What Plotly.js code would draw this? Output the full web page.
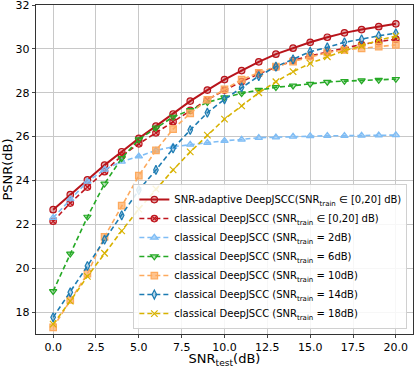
<!DOCTYPE html>
<html>
<head>
<meta charset="utf-8">
<script src="https://cdn.plot.ly/plotly-3.0.1.min.js"></script>
<style>
  body { margin: 0; background: #fff; }
  #chart { width: 416px; height: 368px; }
</style>
</head>
<body>
<div id="chart"></div>
<script>
// test SNR values (dB)
const snrTest = [0, 1, 2, 3, 4, 5, 6, 7, 8, 9, 10, 11, 12, 13, 14, 15, 16, 17, 18, 19, 20];

// PSNR
const psnrAdaptive = [22.67, 23.35, 24.03, 24.70, 25.31, 25.92, 26.48, 27.03, 27.62, 28.12, 28.60, 29.01, 29.41, 29.76, 30.03, 30.30, 30.53, 30.73, 30.88, 31.01, 31.14];
const psnrRange    = [22.14, 22.97, 23.70, 24.40, 25.12, 25.67, 26.17, 26.68, 27.20, 27.68, 28.12, 28.51, 28.86, 29.17, 29.47, 29.68, 29.85, 30.01, 30.20, 30.33, 30.44];
const psnr2dB      = [22.30, 23.15, 23.95, 24.50, 24.86, 25.10, 25.37, 25.54, 25.64, 25.72, 25.81, 25.87, 25.95, 25.97, 26.00, 26.03, 26.04, 26.04, 26.05, 26.06, 26.07];
const psnr6dB      = [18.95, 20.66, 22.34, 23.85, 25.01, 25.87, 26.40, 26.90, 27.20, 27.56, 27.78, 27.97, 28.12, 28.25, 28.32, 28.40, 28.49, 28.53, 28.56, 28.58, 28.62];
const psnr10dB     = [17.30, 18.55, 19.75, 21.43, 22.85, 24.22, 25.37, 26.34, 27.06, 27.68, 28.15, 28.60, 28.91, 29.19, 29.42, 29.64, 29.83, 29.95, 30.02, 30.10, 30.18];
const psnr14dB     = [17.76, 18.90, 20.10, 21.30, 22.41, 23.56, 24.48, 25.46, 26.30, 27.09, 27.70, 28.25, 28.76, 29.19, 29.52, 29.87, 30.07, 30.30, 30.44, 30.60, 30.71];
const psnr18dB     = [17.45, 18.50, 19.63, 20.68, 21.70, 22.69, 23.61, 24.48, 25.30, 26.07, 26.80, 27.40, 28.00, 28.50, 28.96, 29.34, 29.64, 29.92, 30.13, 30.40, 30.58];

const names = [
  'SNR-adaptive DeepJSCC(SNR<sub>train</sub> ∈ [0,20] dB)',
  'classical DeepJSCC (SNR<sub>train</sub> ∈ [0,20] dB)',
  'classical DeepJSCC (SNR<sub>train</sub> = 2dB)',
  'classical DeepJSCC (SNR<sub>train</sub> = 6dB)',
  'classical DeepJSCC (SNR<sub>train</sub> = 10dB)',
  'classical DeepJSCC (SNR<sub>train</sub> = 14dB)',
  'classical DeepJSCC (SNR<sub>train</sub> = 18dB)'
];

function series(y, name, color, symbol, dash, width, fill) {
  return {
    x: snrTest,
    y: y,
    type: 'scatter',
    mode: 'lines+markers',
    name: name,
    line: { color: color, width: width, dash: dash },
    marker: {
      symbol: symbol,
      size: 6.5,
      color: fill,
      line: { color: color, width: 1.2 }
    }
  };
}

const traces = [
  series(psnrAdaptive, names[0], '#b8141b', 'circle', 'solid', 2, 'rgba(184,20,27,0.35)'),
  series(psnrRange,    names[1], '#c0161e', 'circle-x', '5px,3px', 1.6, 'rgba(192,22,30,0.35)'),
  series(psnr2dB,      names[2], '#7fbdf5', 'triangle-up', '5px,3px', 1.6, 'rgba(127,189,245,0.6)'),
  series(psnr6dB,      names[3], '#25a925', 'triangle-down', '5px,3px', 1.6, 'rgba(37,169,37,0.35)'),
  series(psnr10dB,     names[4], '#fdaa5e', 'square', '5px,3px', 1.6, 'rgba(253,170,94,0.7)'),
  series(psnr14dB,     names[5], '#1c7bb2', 'diamond-tall', '5px,3px', 1.6, 'rgba(28,123,178,0.3)'),
  series(psnr18dB,     names[6], '#d8b200', 'x-thin-open', '5px,3px', 1.6, '#d8b200')
];

const layout = {
  width: 416,
  height: 368,
  margin: { l: 36, r: 3, t: 5, b: 34 },
  paper_bgcolor: '#fff',
  plot_bgcolor: '#fff',
  font: { family: 'DejaVu Sans, sans-serif', size: 11, color: '#000' },
  showlegend: true,
  xaxis: {
    range: [-1, 21],
    tickvals: [0, 2.5, 5, 7.5, 10, 12.5, 15, 17.5, 20],
    ticktext: ['0.0', '2.5', '5.0', '7.5', '10.0', '12.5', '15.0', '17.5', '20.0'],
    ticks: 'outside', ticklen: 3,
    ticklabeloverflow: 'allow',
    showgrid: true, gridcolor: '#c8c8c8',
    showline: true, linecolor: '#333', mirror: true, linewidth: 1.2,
    zeroline: false,
    title: { text: 'SNR<sub>test</sub>(dB)', font: { size: 13 }, standoff: 2 }
  },
  yaxis: {
    range: [17, 32],
    tickvals: [18, 20, 22, 24, 26, 28, 30, 32],
    ticks: 'outside', ticklen: 3,
    ticklabeloverflow: 'allow',
    showgrid: true, gridcolor: '#c8c8c8',
    showline: true, linecolor: '#333', mirror: true, linewidth: 1.2,
    zeroline: false,
    title: { text: 'PSNR(dB)', font: { size: 13 }, standoff: 4 }
  },
  legend: {
    x: 0.985, y: 0.015,
    xanchor: 'right', yanchor: 'bottom',
    font: { size: 10 },
    bgcolor: 'rgba(255,255,255,0.85)',
    bordercolor: '#d0d0d0', borderwidth: 1,
    itemwidth: 30
  }
};

Plotly.newPlot('chart', traces, layout, { displayModeBar: false, staticPlot: true });
</script>
</body>
</html>
